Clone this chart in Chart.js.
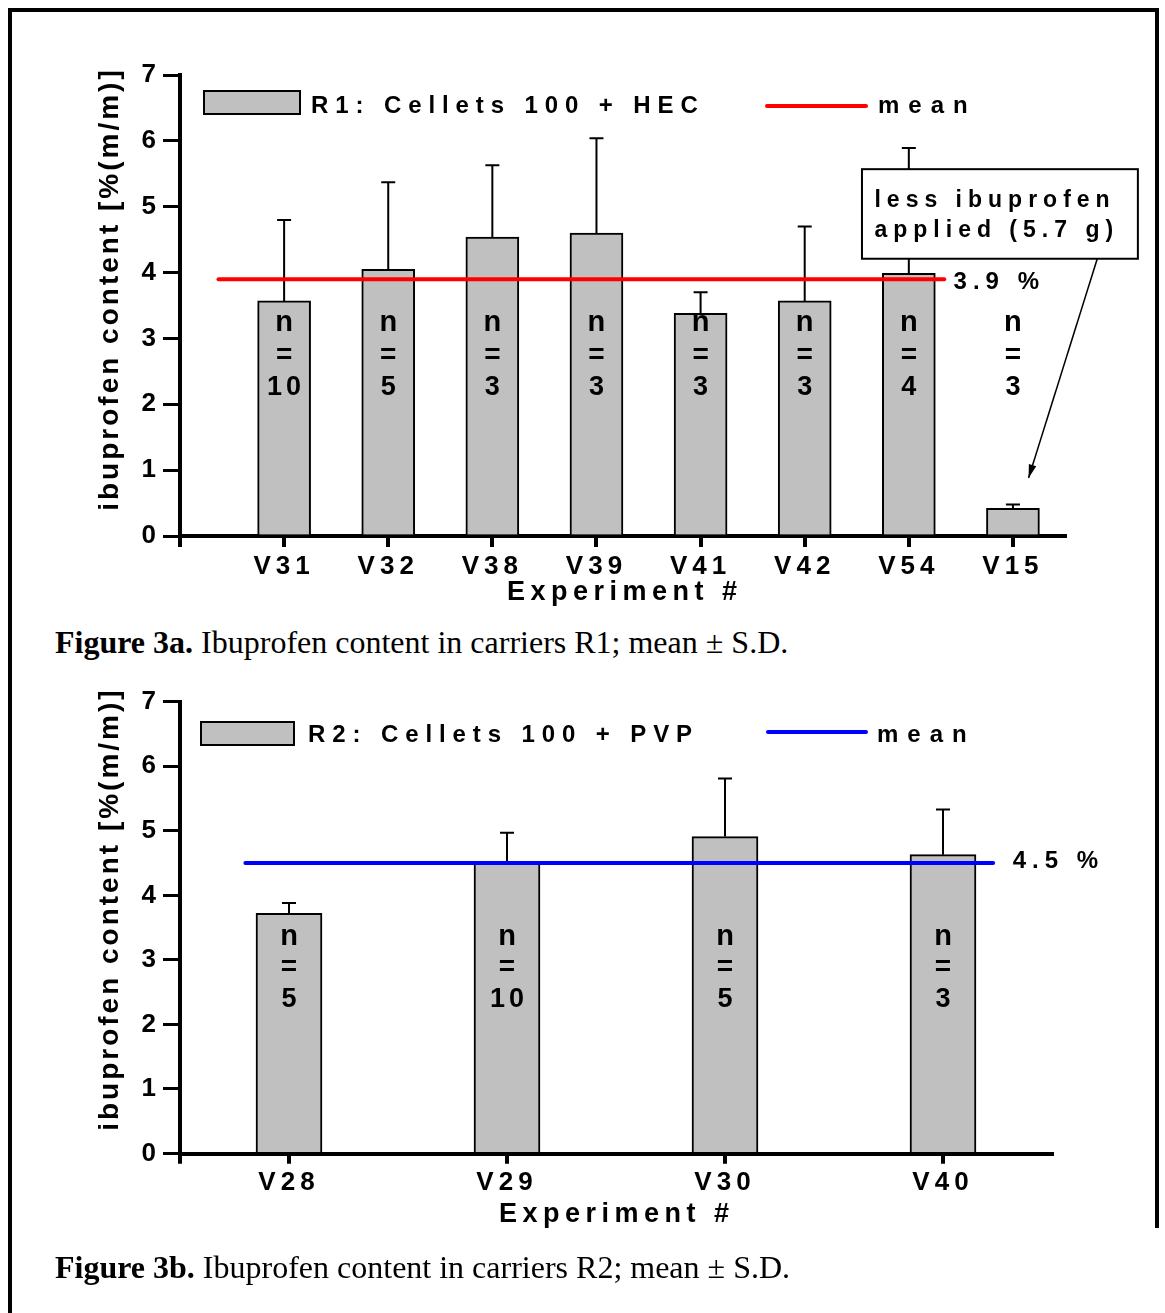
<!DOCTYPE html>
<html><head><meta charset="utf-8">
<script src="https://cdn.jsdelivr.net/npm/chart.js@4.4.1/dist/chart.umd.min.js"></script>
<style>
html,body{margin:0;padding:0;background:#fff;}
body{width:1165px;height:1313px;position:relative;overflow:hidden;}
#frameTL{position:absolute;left:8px;top:8px;width:1151px;height:1400px;border-left:4px solid #000;border-top:4px solid #000;box-sizing:border-box;}
#frameR{position:absolute;left:1155px;top:8px;width:4px;height:1220px;background:#000;}
.cap{position:absolute;left:55px;font-family:"Liberation Serif","Times New Roman",serif;font-size:32px;line-height:32px;color:#000;white-space:nowrap;}
.cap b{font-weight:bold;}
#w1{position:absolute;left:0;top:0;width:1165px;height:620px;}
#w2{position:absolute;left:0;top:660px;width:1165px;height:590px;}
</style></head>
<body>
<div id="frameTL"></div><div id="frameR"></div>
<div id="w1"><canvas id="c1"></canvas></div>
<div class="cap" style="top:626px"><b>Figure 3a.</b> Ibuprofen content in carriers R1; mean ± S.D.</div>
<div id="w2"><canvas id="c2"></canvas></div>
<div class="cap" style="top:1251px"><b>Figure 3b.</b> Ibuprofen content in carriers R2; mean ± S.D.</div>
<script>
// ---------- data ----------
const cats1 = ['V31','V32','V38','V39','V41','V42','V54','V15'];
const means1 = [3.57, 4.05, 4.54, 4.60, 3.38, 3.57, 3.99, 0.42];
const sds1   = [1.23, 1.32, 1.09, 1.44, 0.32, 1.13, 1.90, 0.06];
const n1     = ['10','5','3','3','3','3','4','3'];
const grandMean1 = 3.9;
const meanSpan1 = [0.37, 7.34];

const cats2 = ['V28','V29','V30','V40'];
const means2 = [3.72, 4.52, 4.91, 4.63];
const sds2   = [0.16, 0.45, 0.90, 0.70];
const n2     = ['5','10','5','3'];
const grandMean2 = 4.5;
const meanSpan2 = [0.30, 3.73];

const yTicks = [0,1,2,3,4,5,6,7];
const legend1 = 'R1: Cellets 100 + HEC';
const legend2 = 'R2: Cellets 100 + PVP';
const yTitle = 'ibuprofen content [%(m/m)]';
const xTitle = 'Experiment #';
const note1 = ['less ibuprofen', 'applied (5.7 g)'];

// ---------- helpers ----------
const FONT = '"Liberation Sans", Arial, Helvetica, sans-serif';
function txt(ctx, s, x, y, size, spacing, align, base){
  ctx.save();
  ctx.font = 'bold ' + size + 'px ' + FONT;
  ctx.letterSpacing = spacing + 'px';
  ctx.fillStyle = '#000';
  ctx.textAlign = align || 'left';
  ctx.textBaseline = base || 'alphabetic';
  if (align === 'center') x += spacing / 2;
  if (align === 'right') x += spacing;
  ctx.fillText(s, x, y);
  ctx.restore();
}

function makePlugin(cfg){
  return {
    id: 'custom',
    beforeDraw(chart){ chart.ctx.letterSpacing = '5px'; },
    beforeDatasetsDraw(chart){
      const {ctx, scales:{x, y}} = chart;
      ctx.save();
      ctx.letterSpacing = '0px';
      ctx.strokeStyle = '#000'; ctx.lineWidth = 2;
      cfg.means.forEach((m, i) => {
        const px = x.getPixelForValue(cfg.pos(i));
        const y0 = y.getPixelForValue(m), y1 = y.getPixelForValue(m + cfg.sds[i]);
        ctx.beginPath();
        ctx.moveTo(px, y0); ctx.lineTo(px, y1);
        ctx.moveTo(px - 7, y1); ctx.lineTo(px + 7, y1);
        ctx.stroke();
      });
      ctx.restore();
    },
    afterDraw(chart){
      const {ctx, chartArea: ca, scales:{x, y}} = chart;
      ctx.save();
      // x tick marks (category positions + axis origin)
      ctx.strokeStyle = '#000'; ctx.lineWidth = 4; ctx.lineCap = 'butt';
      x.ticks.forEach(t => {
        const px = Math.round(x.getPixelForValue(t.value));
        ctx.beginPath(); ctx.moveTo(px, ca.bottom); ctx.lineTo(px, ca.bottom + cfg.xTickLen); ctx.stroke();
      });
      // legend
      const L = cfg.legend;
      ctx.fillStyle = '#c0c0c0'; ctx.strokeStyle = '#000'; ctx.lineWidth = 2;
      ctx.fillRect(L.box[0], L.box[1], L.box[2], L.box[3]);
      ctx.strokeRect(L.box[0], L.box[1], L.box[2], L.box[3]);
      txt(ctx, cfg.legendText, L.textX, L.baseY, 24, 6.9);
      ctx.strokeStyle = cfg.meanColor; ctx.lineWidth = 4; ctx.lineCap = 'round';
      ctx.beginPath(); ctx.moveTo(L.line[0], L.lineY); ctx.lineTo(L.line[1], L.lineY); ctx.stroke();
      txt(ctx, 'mean', L.meanX, L.baseY, 24, 9);
      // n labels
      cfg.ns.forEach((n, i) => {
        const px = x.getPixelForValue(cfg.pos(i));
        txt(ctx, 'n', px, y.getPixelForValue(cfg.nRows[0]), 29, 0, 'center', 'middle');
        txt(ctx, '=', px, y.getPixelForValue(cfg.nRows[1]), 28, 0, 'center', 'middle');
        txt(ctx, n, px, y.getPixelForValue(cfg.nRows[2]), 27, 4, 'center', 'middle');
      });
      // mean label
      txt(ctx, cfg.grand.toFixed(1) + ' %', x.getPixelForValue(cfg.meanLabel[0]), y.getPixelForValue(cfg.meanLabel[1]), 24, 6);
      // annotation
      if (cfg.note) {
        const N = cfg.note;
        const bx0 = x.getPixelForValue(N.box[0]), bx1 = x.getPixelForValue(N.box[1]);
        const by0 = y.getPixelForValue(N.box[2]), by1 = y.getPixelForValue(N.box[3]);
        ctx.fillStyle = '#fff'; ctx.fillRect(bx0, by0, bx1 - bx0, by1 - by0);
        ctx.strokeStyle = '#000'; ctx.lineWidth = 2; ctx.lineCap = 'butt';
        ctx.strokeRect(bx0, by0, bx1 - bx0, by1 - by0);
        N.lines.forEach((s, k) => txt(ctx, s, x.getPixelForValue(N.textX), y.getPixelForValue(N.textY[k]), 23, 6));
        const ax0 = x.getPixelForValue(N.arrow[0]), ay0 = y.getPixelForValue(N.arrow[1]);
        const ax1 = x.getPixelForValue(N.arrow[2]), ay1 = y.getPixelForValue(N.arrow[3]);
        ctx.lineWidth = 1.5;
        ctx.beginPath(); ctx.moveTo(ax0, ay0); ctx.lineTo(ax1, ay1); ctx.stroke();
        const ang = Math.atan2(ay1 - ay0, ax1 - ax0);
        ctx.fillStyle = '#000';
        ctx.beginPath();
        ctx.moveTo(ax1, ay1);
        ctx.lineTo(ax1 - 14*Math.cos(ang - 0.28), ay1 - 14*Math.sin(ang - 0.28));
        ctx.lineTo(ax1 - 14*Math.cos(ang + 0.28), ay1 - 14*Math.sin(ang + 0.28));
        ctx.closePath(); ctx.fill();
      }
      // axis titles
      ctx.save();
      ctx.translate(cfg.yTitleX, (ca.top + ca.bottom) / 2 + cfg.yTitleShift);
      ctx.rotate(-Math.PI / 2);
      txt(ctx, yTitle, 0, 0, 28, 3, 'center', 'alphabetic');
      ctx.restore();
      txt(ctx, xTitle, cfg.xTitleX, cfg.xTitleY, 27, 5.5, 'center', 'alphabetic');
      ctx.restore();
    }
  };
}

function build(id, o){
  const axisFont = {family: FONT, size: 26, weight: 'bold'};
  return new Chart(document.getElementById(id), {
    type: 'bar',
    data: {
      datasets: [
        {type: 'line', order: 0, data: [{x: o.meanSpan[0], y: o.grand}, {x: o.meanSpan[1], y: o.grand}],
         borderColor: o.meanColor, borderWidth: 4, borderCapStyle: 'round', pointRadius: 0, fill: false},
        {type: 'bar', order: 1, data: o.means.map((m, i) => ({x: o.pos(i), y: m})),
         backgroundColor: '#c0c0c0', borderColor: '#000', borderWidth: 2, barThickness: o.barW}
      ]
    },
    options: {
      responsive: true, maintainAspectRatio: false, animation: false,
      layout: {padding: {top: o.padTop, right: o.padRight, left: 0, bottom: 0}},
      plugins: {legend: {display: false}, tooltip: {enabled: false}},
      scales: {
        x: {type: 'linear', min: 0, max: o.xMax, offset: false,
            afterBuildTicks: s => { s.ticks = [0].concat(o.cats.map((c, i) => o.pos(i))).map(v => ({value: v})); },
            afterFit: s => { s.height = o.xH; },
            ticks: {autoSkip: false, maxRotation: 0, padding: 4, color: '#000', font: axisFont,
                    callback: v => v === 0 ? '' : o.cats[Math.round(v - o.pos(0))]},
            grid: {offset: false, drawOnChartArea: false, drawTicks: true, tickLength: o.xTickLen, lineWidth: 4, color: '#000'},
            border: {width: 4, color: '#000'}},
        y: {min: 0, max: 7,
            afterBuildTicks: s => { s.ticks = yTicks.map(v => ({value: v})); },
            afterFit: s => { s.width = 180; },
            ticks: {padding: 2, color: '#000', font: axisFont},
            grid: {offset: false, drawOnChartArea: false, drawTicks: true, tickLength: 17, lineWidth: 3, color: '#000'},
            border: {width: 4, color: '#000'}}
      }
    },
    plugins: [makePlugin(o)]
  });
}

build('c1', {
  cats: cats1, means: means1, sds: sds1, ns: n1, grand: grandMean1, meanSpan: meanSpan1,
  pos: i => i + 1, xMax: 8.5, barW: 53, padTop: 75, padRight: 100, xH: 84, xTickLen: 11,
  meanColor: '#ff0000', legendText: legend1,
  legend: {box: [204, 91, 96, 23], textX: 311, baseY: 113, line: [767, 866], lineY: 106, meanX: 878},
  nRows: [3.23, 2.75, 2.26], meanLabel: [7.43, 3.75],
  note: {box: [6.55, 9.2, 5.57, 4.21], lines: note1, textX: 6.67, textY: [5.0, 4.545], arrow: [8.81, 4.21, 8.15, 0.88]},
  yTitleX: 118, yTitleShift: -15, xTitleX: 622, xTitleY: 600
});

build('c2', {
  cats: cats2, means: means2, sds: sds2, ns: n2, grand: grandMean2, meanSpan: meanSpan2,
  pos: i => i + 0.5, xMax: 4, barW: 66, padTop: 41.7, padRight: 113, xH: 96.5, xTickLen: 10,
  meanColor: '#0000ff', legendText: legend2,
  legend: {box: [201, 62, 93, 23], textX: 308, baseY: 82, line: [768, 866], lineY: 72, meanX: 877},
  nRows: [3.35, 2.89, 2.38], meanLabel: [3.82, 4.42],
  note: null,
  yTitleX: 118, yTitleShift: -17, xTitleX: 614, xTitleY: 562
});
</script>
</body></html>
